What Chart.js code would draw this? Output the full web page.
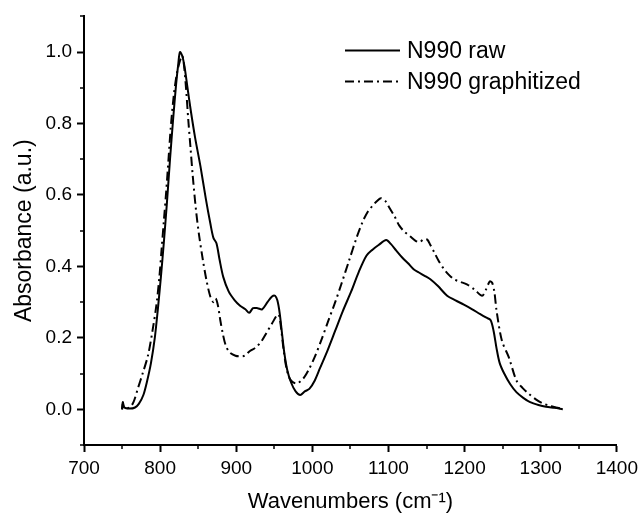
<!DOCTYPE html>
<html>
<head>
<meta charset="utf-8">
<script src="https://cdn.jsdelivr.net/npm/chart.js@4/dist/chart.umd.min.js"></script>
<style>
  html, body { margin: 0; padding: 0; background: #fff; }
  #wrap { width: 643px; height: 517px; }
</style>
</head>
<body>
<div id="wrap"><canvas id="graph" width="643" height="517"></canvas></div>
<script>
// tick labels
const xTicks = [700, 800, 900, 1000, 1100, 1200, 1300, 1400];
const xMinor = [750, 850, 950, 1050, 1150, 1250, 1350];
const yTicks = [0.0, 0.2, 0.4, 0.6, 0.8, 1.0];
const yMinor = [-0.1, 0.1, 0.3, 0.5, 0.7, 0.9, 1.1];

// N990 raw
const rawX = [750, 751, 753, 760, 767, 772, 778, 783, 788, 793, 797, 801, 805, 809, 813, 817, 821, 824, 826, 829,
  832, 836, 840, 846, 853, 860, 866, 870, 874, 878, 883, 890, 898, 905, 912, 917, 922, 928, 934, 941,
  947, 951, 954, 957, 960, 963, 967, 972, 978, 984, 990, 996, 1003, 1010, 1020, 1030, 1040, 1051, 1061, 1071,
  1079, 1087, 1097, 1103, 1110, 1118, 1126, 1133, 1140, 1148, 1155, 1165, 1177, 1188, 1199, 1210, 1220, 1228, 1234, 1238,
  1242, 1246, 1252, 1260, 1268, 1277, 1286, 1297, 1307, 1318, 1324, 1329];
const rawY = [0.0, 0.02, 0.005, 0.002, 0.005, 0.015, 0.04, 0.08, 0.13, 0.2, 0.28, 0.37, 0.47, 0.58, 0.70, 0.81, 0.91, 0.97, 1.0, 0.99,
  0.96, 0.90, 0.84, 0.76, 0.68, 0.59, 0.52, 0.48, 0.465, 0.42, 0.37, 0.33, 0.305, 0.29, 0.28, 0.27, 0.283, 0.283, 0.28, 0.30,
  0.316, 0.318, 0.305, 0.27, 0.215, 0.16, 0.11, 0.075, 0.05, 0.04, 0.05, 0.057, 0.08, 0.115, 0.165, 0.22, 0.275, 0.33, 0.385, 0.43,
  0.447, 0.46, 0.474, 0.463, 0.445, 0.425, 0.408, 0.392, 0.383, 0.373, 0.364, 0.345, 0.318, 0.305, 0.293, 0.28, 0.267, 0.257, 0.25, 0.22,
  0.17, 0.13, 0.10, 0.07, 0.048, 0.032, 0.02, 0.012, 0.007, 0.004, 0.002, 0.0];

// N990 graphitized
const grX = [750, 751, 753, 760, 765, 771, 777, 784, 790, 795, 799, 802, 805, 808, 811, 814, 818, 822, 826, 829,
  831, 834, 837, 840, 843, 847, 851, 856, 861, 866, 870, 873, 876, 879, 882, 886, 891, 899, 905, 911,
  918, 925, 933, 940, 947, 953, 956, 959, 962, 966, 971, 979, 988, 995, 1003, 1012, 1021, 1030, 1038, 1048,
  1058, 1066, 1073, 1080, 1085, 1090, 1096, 1101, 1108, 1114, 1121, 1128, 1136, 1141, 1146, 1151, 1155, 1160, 1166, 1173,
  1180, 1186, 1194, 1203, 1213, 1223, 1228, 1233, 1236, 1239, 1242, 1249, 1258, 1268, 1276, 1284, 1294, 1303, 1312, 1320, 1329];
const grY = [0.0, 0.015, 0.003, 0.005, 0.02, 0.06, 0.1, 0.15, 0.22, 0.29, 0.37, 0.45, 0.53, 0.61, 0.70, 0.79, 0.88, 0.94, 0.975, 0.99,
  0.97, 0.90, 0.81, 0.73, 0.65, 0.56, 0.49, 0.42, 0.36, 0.315, 0.30, 0.31, 0.29, 0.25, 0.215, 0.18, 0.16, 0.15, 0.148, 0.15,
  0.163, 0.172, 0.19, 0.215, 0.24, 0.262, 0.265, 0.225, 0.17, 0.115, 0.083, 0.072, 0.086, 0.11, 0.146, 0.195, 0.248, 0.30, 0.35, 0.415,
  0.48, 0.525, 0.554, 0.572, 0.583, 0.591, 0.583, 0.565, 0.54, 0.515, 0.497, 0.485, 0.471, 0.468, 0.476, 0.475, 0.46, 0.44, 0.415, 0.392,
  0.375, 0.364, 0.357, 0.35, 0.335, 0.318, 0.335, 0.358, 0.355, 0.33, 0.275, 0.192, 0.146, 0.081, 0.06, 0.044, 0.027, 0.016, 0.01, 0.005, 0.002];

const toPts = (xs, ys) => xs.map((x, i) => ({ x: x, y: ys[i] }));
const FONT = '"Liberation Sans", Arial, sans-serif';

// short outward ticks between the labelled ones
const minorTicks = {
  id: 'minorTicks',
  afterDraw(chart) {
    const { ctx, scales: { x, y } } = chart;
    ctx.save();
    ctx.strokeStyle = '#000';
    ctx.lineWidth = 1.5;
    xMinor.forEach(v => {
      const px = Math.round(x.getPixelForValue(v));
      ctx.beginPath(); ctx.moveTo(px, x.top); ctx.lineTo(px, x.top + 4); ctx.stroke();
    });
    yMinor.forEach(v => {
      const py = Math.round(y.getPixelForValue(v));
      ctx.beginPath(); ctx.moveTo(y.right, py); ctx.lineTo(y.right - 4, py); ctx.stroke();
    });
    ctx.restore();
  }
};

// legend sitting inside the plot, top right
const insideLegend = {
  id: 'insideLegend',
  afterDraw(chart) {
    const ctx = chart.ctx;
    const area = chart.chartArea;
    const x0 = area.left + 261, x1 = area.left + 316;
    ctx.save();
    ctx.font = '23px ' + FONT;
    ctx.textBaseline = 'middle';
    ctx.fillStyle = '#000';
    chart.data.datasets.forEach((ds, i) => {
      const yy = area.top + 34 + i * 31;
      ctx.strokeStyle = '#000';
      ctx.lineWidth = 2;
      ctx.setLineDash(ds.borderDash || []);
      ctx.beginPath(); ctx.moveTo(x0, yy); ctx.lineTo(x1, yy); ctx.stroke();
      ctx.setLineDash([]);
      ctx.fillText(ds.label, x1 + 7, yy + 1);
    });
    ctx.restore();
  }
};

new Chart(document.getElementById('graph').getContext('2d'), {
  type: 'line',
  data: {
    datasets: [{
      label: 'N990 raw',
      data: toPts(rawX, rawY),
      borderColor: '#000',
      borderWidth: 2,
      pointRadius: 0,
      tension: 0.3,
      fill: false
    }, {
      label: 'N990 graphitized',
      data: toPts(grX, grY),
      borderColor: '#000',
      borderWidth: 2,
      borderDash: [9, 4, 2, 4],
      pointRadius: 0,
      tension: 0.3,
      fill: false
    }]
  },
  options: {
    responsive: false,
    animation: false,
    layout: { padding: { top: 14, right: 22, left: 0, bottom: 0 } },
    plugins: { legend: { display: false }, tooltip: { enabled: false } },
    scales: {
      x: {
        type: 'linear',
        min: 700,
        max: 1400,
        afterBuildTicks: s => { s.ticks = xTicks.map(v => ({ value: v })); },
        afterFit: s => { s.height = 72; },
        border: { display: true, color: '#000', width: 2 },
        grid: { drawOnChartArea: false, drawTicks: true, tickLength: 7, tickWidth: 2, tickColor: '#000' },
        ticks: { color: '#000', padding: 5, maxRotation: 0, callback: v => String(v), font: { family: FONT, size: 19 } },
        title: {
          display: true,
          text: 'Wavenumbers (cm\u207B\u00B9)',
          color: '#000',
          padding: { top: 0, bottom: 2 },
          font: { family: FONT, size: 22 }
        }
      },
      y: {
        min: -0.1,
        max: 1.1,
        afterBuildTicks: s => { s.ticks = yTicks.map(v => ({ value: v })); },
        afterFit: s => { s.width = 84; },
        border: { display: true, color: '#000', width: 2 },
        grid: { drawOnChartArea: false, drawTicks: true, tickLength: 7, tickWidth: 2, tickColor: '#000' },
        ticks: { color: '#000', padding: 5, callback: v => v.toFixed(1), font: { family: FONT, size: 19 } },
        title: {
          display: true,
          text: 'Absorbance (a.u.)',
          color: '#000',
          padding: { top: 11, bottom: 0 },
          font: { family: FONT, size: 23 }
        }
      }
    }
  },
  plugins: [minorTicks, insideLegend]
});
</script>
</body>
</html>
